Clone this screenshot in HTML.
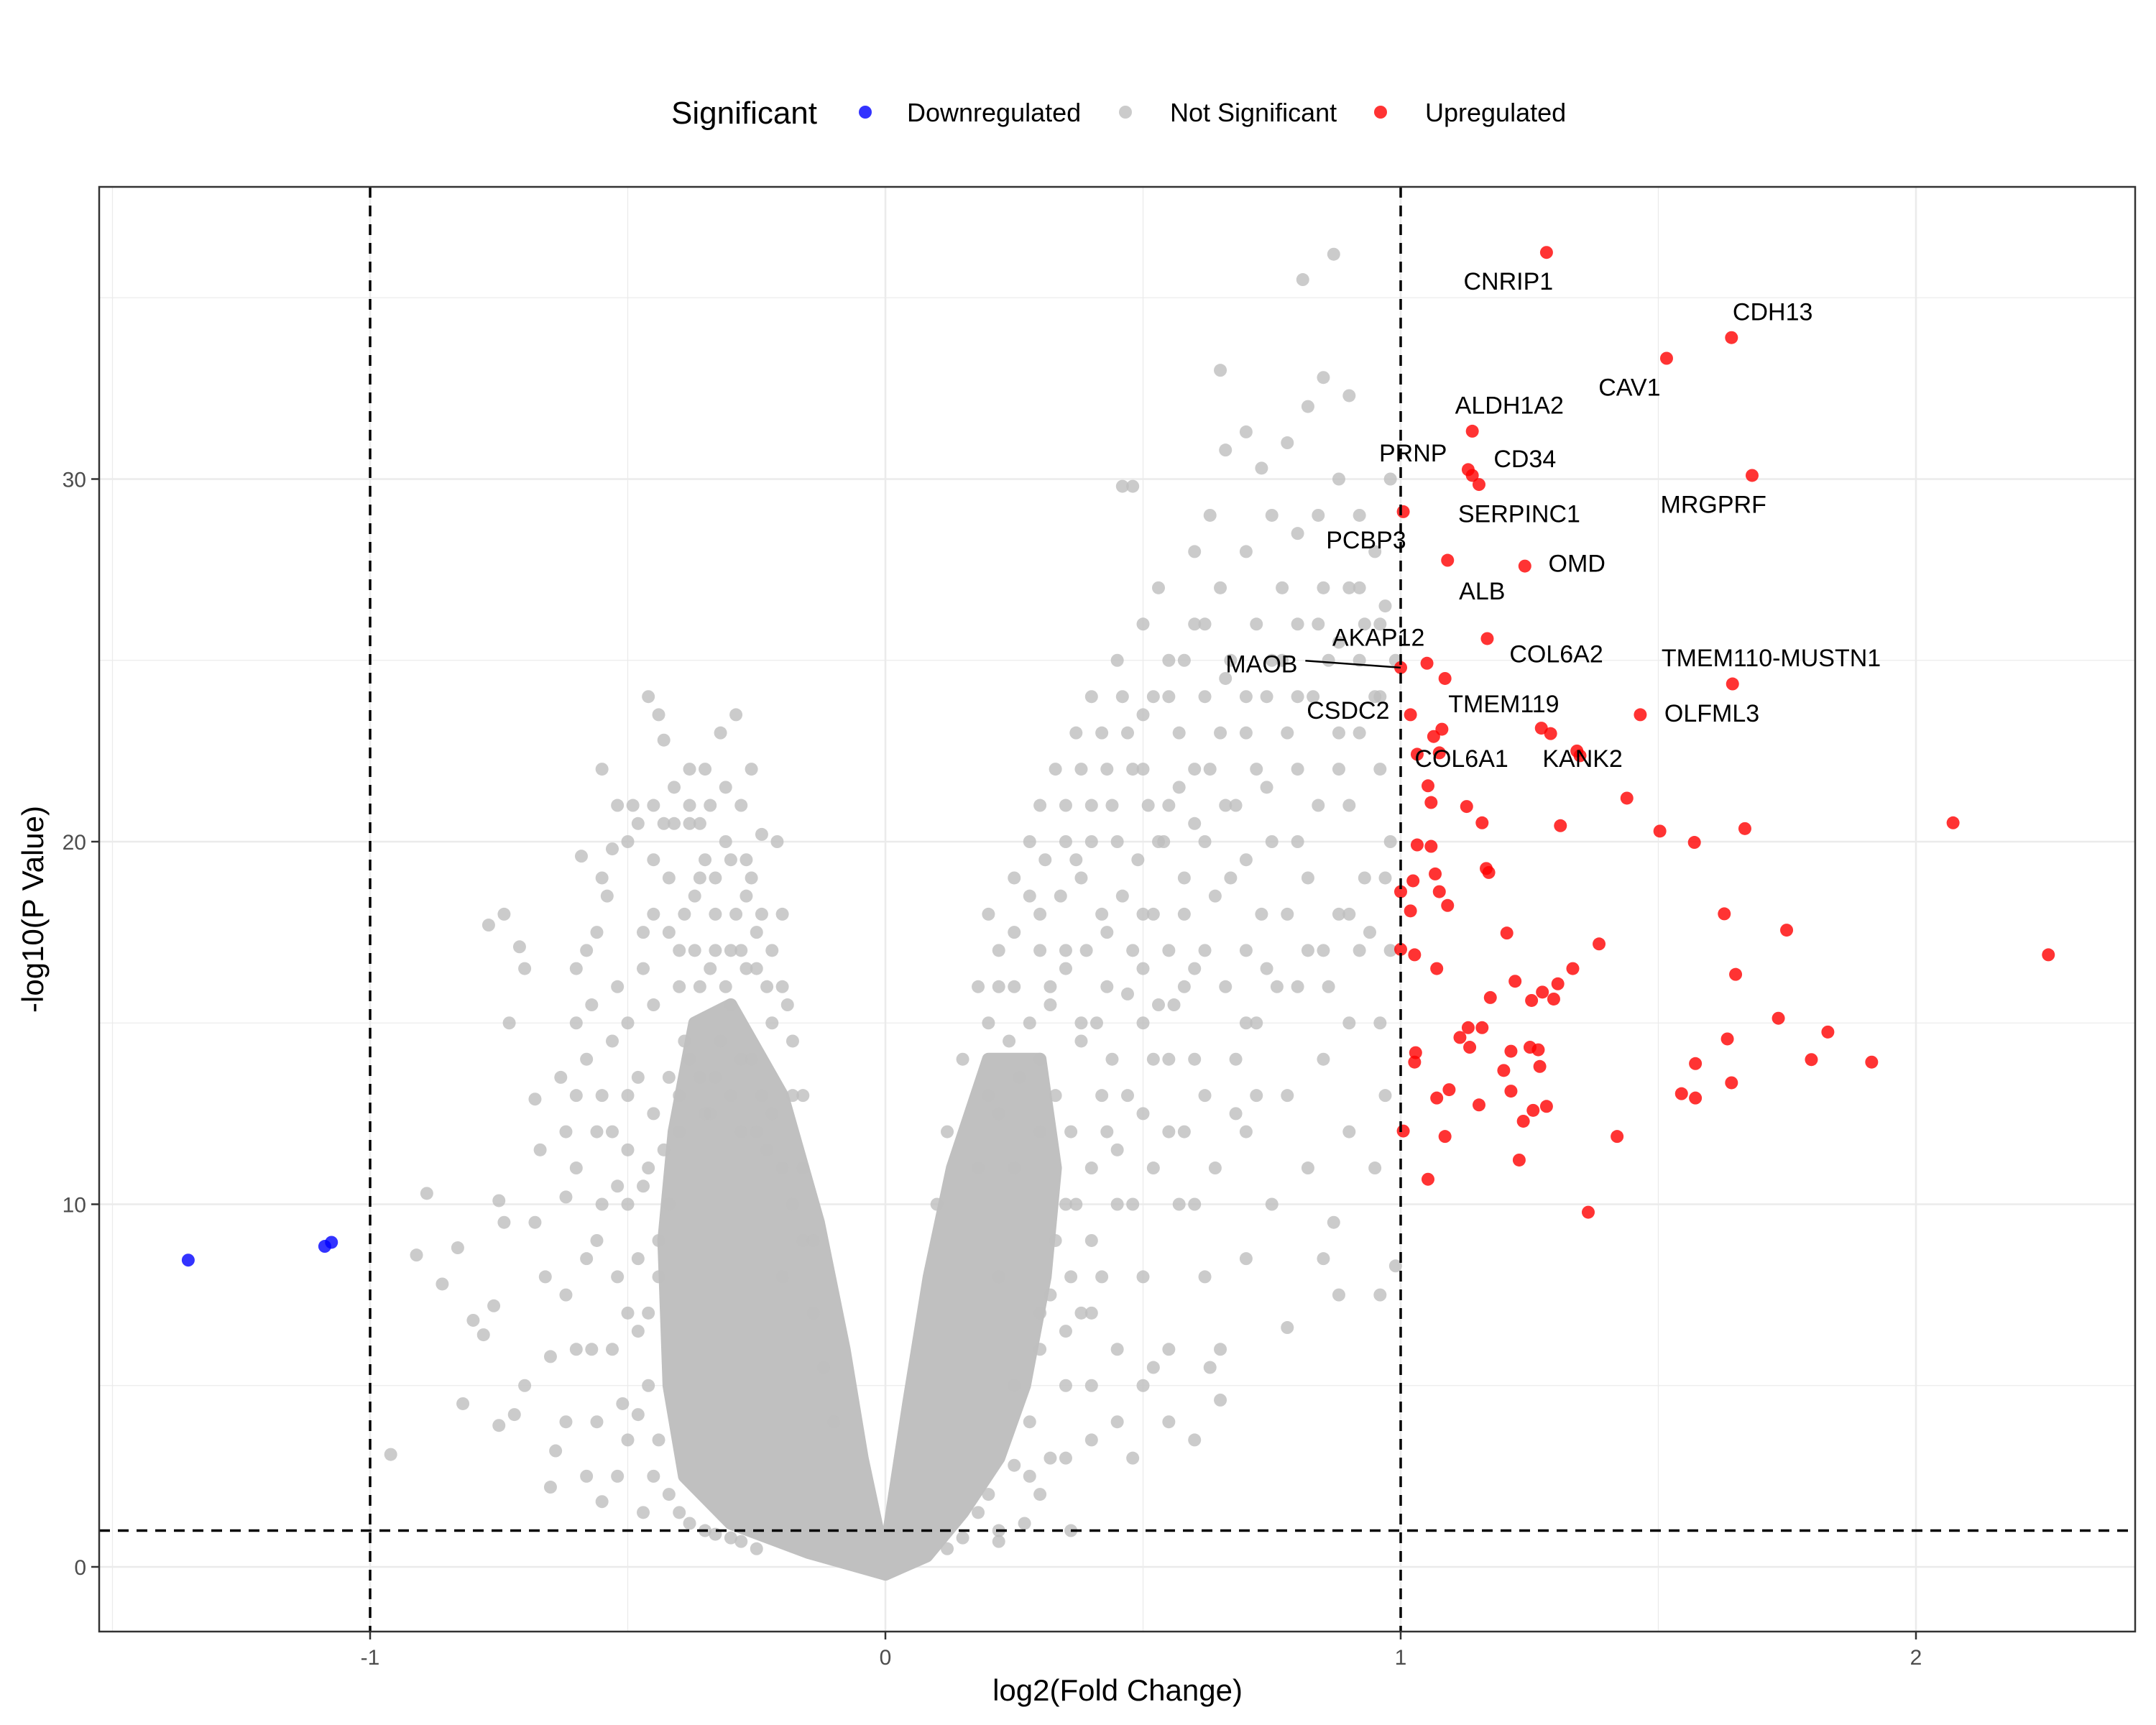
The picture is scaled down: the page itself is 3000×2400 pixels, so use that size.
<!DOCTYPE html>
<html><head><meta charset="utf-8"><style>
html,body{margin:0;padding:0;background:#fff;width:3000px;height:2400px;overflow:hidden}
svg{display:block;font-family:"Liberation Sans",sans-serif}
</style></head><body>
<svg id="chart" width="3000" height="2400" viewBox="0 0 3000 2400" xmlns="http://www.w3.org/2000/svg">
<rect x="0" y="0" width="3000" height="2400" fill="#fff"/>
<g id="legend">
<text x="934" y="172" font-size="44" fill="#000">Significant</text>
<circle cx="1204" cy="156" r="9" fill="#0000ff" fill-opacity="0.8"/>
<text x="1262" y="169" font-size="36" fill="#000">Downregulated</text>
<circle cx="1566" cy="156" r="9" fill="#bebebe" fill-opacity="0.8"/>
<text x="1628" y="169" font-size="36" fill="#000">Not Significant</text>
<circle cx="1921" cy="156" r="9" fill="#ff0000" fill-opacity="0.8"/>
<text x="1983" y="169" font-size="36" fill="#000">Upregulated</text>
</g>
<g id="grid"></g>
<g id="marks"></g>
<g id="refs"></g>
<g id="labels"></g>
<rect x="138" y="260" width="2833" height="2010" fill="none" stroke="#333" stroke-width="2.5"/>
<g id="axes"></g>
<text x="1555" y="2366" font-size="42" text-anchor="middle" fill="#000">log2(Fold Change)</text>
<text x="0" y="0" font-size="42" text-anchor="middle" fill="#000" transform="translate(60,1265) rotate(-90)">-log10(P Value)</text>
</svg>
<script>
const xTicks = [-1, 0, 1, 2];
const xTickLabels = ["-1", "0", "1", "2"];
const yTicks = [0, 10, 20, 30];
const yTickLabels = ["0", "10", "20", "30"];
const xMinor = [-1.5, -0.5, 0.5, 1.5];
const yMinor = [5, 15, 25, 35];
const fcThresholds = [-1, 1];
const pThreshold = 1;

const downX = [-1.353, -1.088, -1.075];
const downY = [8.46, 8.84, 8.95];

const upX = [1.283,1.642,1.516,1.139,1.131,1.139,1.152,1.682,1.005,1.091,1.241,1.168,1.0,1.644,1.465,1.019,1.342,
1.051,1.086,1.064,1.080,1.032,1.075,1.273,1.291,1.348,1.053,1.059,1.128,1.158,1.439,1.31,1.503,1.57,1.668,2.072,1.032,1.059,1.0,1.024,1.067,1.019,1.075,1.091,1.171,1.166,1.628,1.749,1.385,1.206,1.0,1.027,1.07,2.257,1.334,1.65,1.305,1.174,1.275,1.297,1.254,1.222,1.733,1.829,1.131,1.158,1.115,1.134,1.214,1.251,1.267,1.634,1.029,1.027,1.27,1.2,1.572,1.914,1.797,1.094,1.07,1.214,1.572,1.642,1.545,1.152,1.257,1.283,1.238,1.005,1.086,1.42,1.053,1.23,1.364];
const upY = [36.25,33.9,33.33,31.32,30.26,30.1,29.85,30.1,29.1,27.76,27.6,25.6,24.8,24.35,23.5,23.5,22.5,
24.92,24.5,22.9,23.1,22.41,22.45,23.13,22.98,22.37,21.54,21.08,20.97,20.52,21.2,20.44,20.29,19.98,20.36,20.52,19.91,19.87,18.62,18.92,19.11,18.09,18.62,18.24,19.15,19.26,18.01,17.56,17.18,17.48,17.03,16.88,16.5,16.88,16.5,16.34,16.08,15.7,15.85,15.66,15.62,16.15,15.13,14.75,14.87,14.87,14.6,14.33,14.22,14.33,14.26,14.56,14.18,13.92,13.8,13.69,13.88,13.92,13.99,13.16,12.93,13.12,12.93,13.35,13.05,12.74,12.59,12.7,12.29,12.02,11.87,11.87,10.69,11.22,9.78];

const nsX = [-0.96,-0.91,-0.89,-0.86,-0.83,-0.82,-0.8,-0.78,-0.77,-0.75,-0.74,-0.73,-0.71,-0.7,-0.72,-0.75,-0.76,-0.74,-0.68,-0.67,-0.66,-0.65,-0.64,-0.62,-0.6,-0.59,-0.58,-0.57,-0.56,-0.55,-0.54,-0.53,-0.52,-0.51,-0.5,-0.5,-0.49,-0.48,-0.47,-0.46,-0.45,-0.44,-0.43,-0.42,-0.41,-0.4,-0.39,-0.38,-0.37,-0.36,-0.35,-0.34,-0.33,-0.32,-0.31,-0.3,-0.29,-0.28,-0.27,-0.26,-0.25,-0.24,-0.22,-0.2,-0.18,-0.16,-0.14,-0.55,-0.6,-0.62,-0.58,-0.52,-0.48,-0.46,-0.44,-0.42,-0.5,-0.45,-0.4,-0.35,-0.33,-0.28,-0.25,-0.23,-0.2,-0.5,-0.45,-0.4,-0.35,-0.3,-0.55,-0.65,-0.7,-0.68,-0.63,-0.56,-0.53,-0.47,-0.43,-0.38,-0.36,-0.33,-0.3,-0.27,-0.23,-0.21,-0.19,
-0.4,-0.38,-0.36,-0.34,-0.32,-0.3,-0.28,-0.26,-0.24,-0.22,-0.2,-0.18,-0.43,-0.45,-0.47,-0.5,-0.52,-0.48,-0.5,-0.53,-0.46,-0.44,-0.48,-0.42,-0.38,-0.33,-0.28,-0.25,-0.4,-0.37,-0.34,-0.31,-0.28,-0.25,-0.22,-0.2,-0.18,-0.16,-0.42,-0.39,-0.36,-0.33,-0.3,-0.27,-0.24,-0.45,-0.41,-0.38,-0.35,-0.31,-0.26,-0.29,-0.45,-0.48,-0.52,-0.55,-0.58,-0.6,-0.6,-0.62,-0.56,-0.55,-0.58,-0.6,-0.56,-0.62,-0.52,-0.47,-0.12,-0.1,-0.14,-0.16,-0.44,-0.46,-0.42,-0.5,-0.53,-0.57,
0.1,0.12,0.15,0.18,0.2,0.2,0.22,0.25,0.25,0.28,0.3,0.3,0.32,0.33,0.35,0.35,0.37,0.38,0.4,0.4,0.42,0.43,0.45,0.45,0.46,0.48,0.47,0.5,0.5,0.5,0.52,0.53,0.55,0.55,0.57,0.58,0.6,0.6,0.6,0.62,0.62,0.63,0.65,0.65,0.65,0.66,0.67,0.68,0.7,0.7,0.7,0.72,0.72,0.73,0.75,0.75,0.75,0.77,0.78,0.78,0.8,0.8,0.8,0.81,0.82,0.83,0.84,0.85,0.85,0.86,0.87,0.88,0.88,0.9,0.9,0.9,0.92,0.92,0.93,0.95,0.95,0.96,0.97,0.98,0.98,0.99,0.6,0.6,0.62,0.65,0.65,0.63,0.7,0.7,0.72,0.75,0.78,0.78,0.8,0.82,0.85,0.85,0.87,0.88,0.9,0.9,0.92,0.95,0.96,0.97,0.98,0.99,0.55,0.55,0.5,0.5,0.52,0.45,0.45,0.42,0.4,0.4,0.38,0.35,0.35,0.32,0.3,0.3,0.28,0.25,0.22,0.25,0.58,0.62,0.67,0.7,0.73,0.76,0.82,0.85,0.88,0.93,0.96,0.68,0.57,0.53,0.48,0.43,0.47,0.52,
0.18,0.22,0.26,0.3,0.33,0.36,0.38,0.41,0.44,0.47,0.5,0.53,0.32,0.28,0.24,0.2,0.35,0.39,0.43,0.46,0.49,0.52,0.55,0.58,0.3,0.34,0.37,0.4,0.44,0.48,0.51,0.54,0.57,0.6,0.63,0.66,0.28,0.31,0.25,0.22,0.35,0.38,0.42,0.46,0.5,0.55,0.58,0.62,0.66,0.7,0.74,0.77,0.8,0.84,0.88,0.92,0.96,0.4,0.43,0.37,0.33,0.36,0.4,0.45,0.5,0.55,0.48,0.52,0.58,0.62,0.64,0.68,0.72,0.3,0.32,0.35,0.38,0.42,0.28,0.3,0.27,0.22,0.35,0.4,0.45,0.5,0.55,0.6,0.48,0.2,0.25,0.18,0.15,0.12,0.22,0.36,0.66,0.7,0.74,0.78,0.82,0.86,0.9,0.94,0.97,0.8,0.84,0.88,0.92,0.96,0.74,0.7,0.64,0.6,0.56];
const nsY = [3.1,8.6,10.3,7.8,8.8,4.5,6.8,6.4,17.7,10.1,18.0,15.0,17.1,16.5,4.2,3.9,7.2,9.5,12.9,11.5,8.0,5.8,3.2,10.2,16.5,19.6,14.0,6.0,9.0,22.0,18.5,12.0,16.0,4.5,20.0,10.0,21.0,13.5,17.5,24.0,15.5,23.5,22.8,19.0,21.5,17.0,14.5,20.5,18.5,16.0,19.5,21.0,17.0,23.0,20.0,15.5,18.0,21.0,16.5,19.0,17.5,20.2,15.0,18.0,13.0,11.0,9.0,13.0,11.0,7.5,2.5,8.0,6.5,11.0,9.0,13.5,15.0,18.0,12.0,12.5,13.5,14.0,12.0,11.5,8.0,3.5,2.5,1.5,1.0,0.8,1.8,2.2,5.0,9.5,13.5,17.5,19.8,16.5,20.5,22.0,20.5,19.0,17.0,19.5,16.0,20.0,15.5,
13,14,13.5,12.5,14.5,13,12,14,13,12.5,11,10,11.5,12.5,10.5,11.5,10.5,8.5,7,6,5,3.5,4.2,2,1.2,0.9,0.7,0.5,16,17,16.5,16,17,16.5,17,16,14.5,13,17.5,18,19,18,19.5,18.5,18,19.5,20.5,21,22,21.5,22,23.5,21,20.5,21,19,17,15,13,12,12,10,8.5,6,4,4,2.5,1.5,5.5,4,7,9,8,7,10,13,14.5,15.5,
10,12,14,16,18,15,17,19,16,20,18,21,16,22,20,17,23,19,24,21,18,22,25,20,29.8,29.8,23,26,22,18,24,27,21,25,23,19,26,22,28,24,20,29,33,27,23,30.8,25,21,31.3,28,24,26,22,30.3,29,25,20,27,23,31.0,26,22,28.5,35.5,32,24,29,32.8,27,25,36.2,30,23,27,32.3,21,29,25,26,28,24,22,26.5,30,20,25,14,10,8,6,4.6,5.5,8.5,12,15,10,6.6,13,16,11,8.5,14,9.5,7.5,12,15,17,11,7.5,13,17,8.3,6,12,8,15,5.5,4,10,13,7,3.5,15,5,10,3,7,12,2.5,5,8,11,16,17,19,17,18,16,19,17,18,19,15,14,10,20,17,16,13,14,
11,12.5,13.5,14,13,12,14.5,15,14,15.8,16.5,15.5,15.5,15,14.5,13,16.5,17,17.5,18.5,19.5,18,17,18,17,18.5,19.5,20,21,22,21,20,21.5,20.5,22,21,18.5,19.5,17.5,16,21,22,23,24,23.5,24,25,26,24.5,23,24,25,24,26,25.5,27,26,11,12,10,9,8,9,11.5,12.5,14,10,11,12,13,11,12.5,13,6,7.5,6.5,7,8,4,2,1.2,1,3,5,6,5,4,3.5,3,2,2.8,1.5,0.8,0.5,0.7,1,16,15,16.5,18,17,16,18,17.5,19,20,21,22,23,24,21.5,19.5,18.5,16.5,15.5];

/* dense cores of the not-significant cloud (outline in data units) */
const coreLeftX = [0,-0.15,-0.3,-0.39,-0.42,-0.43,-0.41,-0.37,-0.3,-0.2,-0.13,-0.08,-0.045,-0.012];
const coreLeftY = [-0.2,0.4,1.2,2.5,5,9,12,15,15.5,13,9.5,6,3,0.8];
const coreRightX = [0,0.08,0.15,0.22,0.27,0.31,0.33,0.3,0.2,0.13,0.085,0.045,0.018,0.004];
const coreRightY = [-0.2,0.3,1.5,3,5,8,11,14,14,11,8,4.5,2,0.7];

const geneNames = ["CNRIP1","CDH13","CAV1","ALDH1A2","PRNP","CD34","MRGPRF","SERPINC1","PCBP3","OMD","ALB","AKAP12","COL6A2","MAOB","TMEM110-MUSTN1","TMEM119","OLFML3","CSDC2","COL6A1","KANK2"];
const geneLabelX = [1.209,1.722,1.444,1.211,1.024,1.241,1.607,1.23,0.933,1.342,1.158,0.957,1.302,0.73,1.719,1.2,1.604,0.898,1.118,1.353];
const geneLabelY = [35.46,34.62,32.54,32.04,30.72,30.56,29.31,29.05,28.33,27.68,26.92,25.64,25.18,24.91,25.07,23.81,23.55,23.63,22.3,22.3];
const maobSegX = [0.815, 1.0];
const maobSegY = [24.99, 24.8];

const X0 = 1232, XU = 717, Y0 = 2180, YU = 50.45;
const L = 138, R = 2971, T = 260, B = 2270;
function sx(v){ return X0 + XU*v; }
function sy(v){ return Y0 - YU*v; }
const NS = "http://www.w3.org/2000/svg";
function mk(tag, attrs, parent){ const e = document.createElementNS(NS, tag); for (const k in attrs) e.setAttribute(k, attrs[k]); parent.appendChild(e); return e; }

const grid = document.getElementById('grid');
xMinor.forEach(v => { const e = mk('line',{x1:sx(v),x2:sx(v),y1:T,y2:B,stroke:'#ebebeb','stroke-width':1.3},grid);
  
   });
yMinor.forEach(v => { const e = mk('line',{x1:L,x2:R,y1:sy(v),y2:sy(v),stroke:'#ebebeb','stroke-width':1.3},grid);
  
   });
xTicks.forEach(v => { const e = mk('line',{x1:sx(v),x2:sx(v),y1:T,y2:B,stroke:'#ebebeb','stroke-width':2.6},grid);
  
   });
yTicks.forEach(v => { const e = mk('line',{x1:L,x2:R,y1:sy(v),y2:sy(v),stroke:'#ebebeb','stroke-width':2.6},grid);
  
   });

const marks = document.getElementById('marks');
function corePath(xs, ys){ return xs.map((v,i)=>(i?'L':'M')+sx(v).toFixed(1)+' '+sy(ys[i]).toFixed(1)).join(' ')+' Z'; }
const cl = mk('path',{d:corePath(coreLeftX,coreLeftY),fill:'#c0c0c0',stroke:'#c0c0c0','stroke-width':18,'stroke-linejoin':'round'},marks);


const cr = mk('path',{d:corePath(coreRightX,coreRightY),fill:'#c0c0c0',stroke:'#c0c0c0','stroke-width':18,'stroke-linejoin':'round'},marks);


nsX.forEach((v,i) => { const c = mk('circle',{cx:sx(v),cy:sy(nsY[i]),r:9,fill:'#bebebe','fill-opacity':0.8},marks);
  
   });
downX.forEach((v,i) => { const c = mk('circle',{cx:sx(v),cy:sy(downY[i]),r:9,fill:'#0000ff','fill-opacity':0.8},marks);
  
   });
upX.forEach((v,i) => { const c = mk('circle',{cx:sx(v),cy:sy(upY[i]),r:9,fill:'#ff0000','fill-opacity':0.8},marks);
  
   });

const refs = document.getElementById('refs');
fcThresholds.forEach(v => { const e = mk('line',{x1:sx(v),x2:sx(v),y1:T,y2:B,stroke:'#000','stroke-width':3.5,'stroke-dasharray':'15 11'},refs);
  
   });
const ph = mk('line',{x1:L,x2:R,y1:sy(pThreshold),y2:sy(pThreshold),stroke:'#000','stroke-width':3.5,'stroke-dasharray':'15 11'},refs);



const labels = document.getElementById('labels');
const seg = mk('line',{x1:sx(maobSegX[0]),y1:sy(maobSegY[0]),x2:sx(maobSegX[1]),y2:sy(maobSegY[1]),stroke:'#000','stroke-width':2.5},labels);


geneNames.forEach((n,i) => { const t = mk('text',{x:sx(geneLabelX[i]),y:sy(geneLabelY[i])+12,'font-size':34,'text-anchor':'middle',fill:'#000'},labels);
  t.textContent = n;
  
   });

const axes = document.getElementById('axes');
xTicks.forEach((v,i) => {
  const tk = mk('line',{x1:sx(v),x2:sx(v),y1:B,y2:B+11,stroke:'#333','stroke-width':2.5},axes);
  
  
  const t = mk('text',{x:sx(v),y:2316,'font-size':30,'text-anchor':'middle',fill:'#4d4d4d'},axes);
  t.textContent = xTickLabels[i];
  
  
});
yTicks.forEach((v,i) => {
  const tk = mk('line',{x1:L-11,x2:L,y1:sy(v),y2:sy(v),stroke:'#333','stroke-width':2.5},axes);
  
  
  const t = mk('text',{x:L-18,y:sy(v)+11,'font-size':30,'text-anchor':'end',fill:'#4d4d4d'},axes);
  t.textContent = yTickLabels[i];
  
  
});
</script>
</body></html>
